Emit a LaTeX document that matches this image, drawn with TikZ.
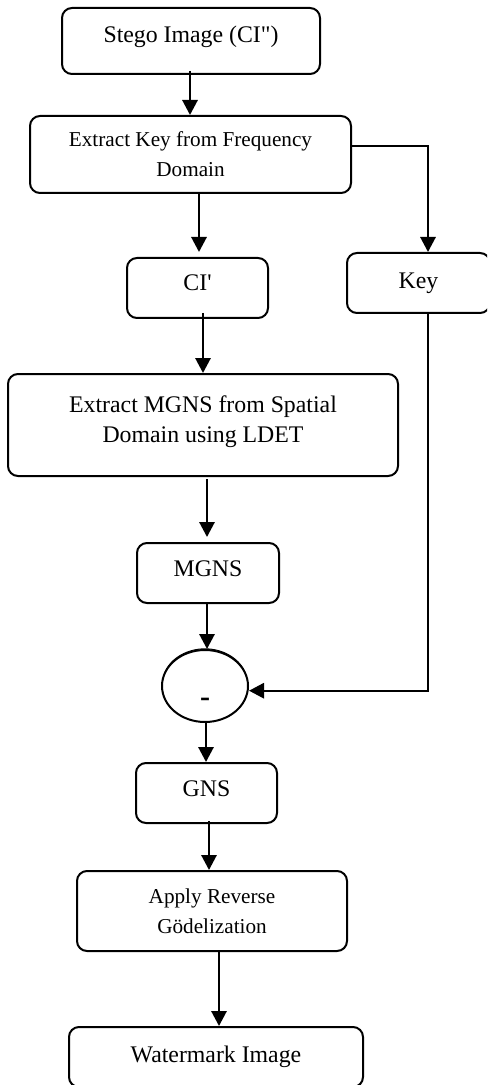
\documentclass[tikz,border=0pt]{standalone}
\usepackage{fontspec}
\setmainfont{Liberation Serif}
\usetikzlibrary{arrows.meta,shapes.geometric,calc}
\begin{document}
\begin{tikzpicture}[x=0.5pt,y=-0.5pt,
  flowbox/.style={draw,line width=1pt,rounded corners=5pt,inner sep=0pt,
    align=center,font=\fontsize{11.9}{15}\selectfont},
  smalltext/.style={font=\fontsize{10.6}{15}\selectfont},
  arr/.style={line width=1.2pt,-{Triangle[length=7.5pt,width=7.6pt]}},
  link/.style={line width=1.2pt}]
\useasboundingbox (0,0) rectangle (487,1085);
\clip (0,0) rectangle (487,1085);

% process boxes
\node[flowbox,minimum width=129pt,minimum height=33pt,text depth=6.6pt] (stego) at (191,41)
  {Stego Image (CI\textquotedbl)};
\node[flowbox,smalltext,minimum width=160.5pt,minimum height=38.5pt] (ext) at (190.5,154.5)
  {Extract Key from Frequency\\Domain};
\node[flowbox,minimum width=70.5pt,minimum height=30pt,text depth=5pt] (ci) at (197.5,288)
  {CI\textquotesingle};
\node[flowbox,minimum width=71.5pt,minimum height=30pt] (key) at (418.5,283) {Key};
\node[flowbox,minimum width=195pt,minimum height=51pt,text depth=5.4pt] (spat) at (203,425)
  {Extract MGNS from Spatial\\Domain using LDET};
\node[flowbox,minimum width=71pt,minimum height=30pt,text depth=4pt] (mgns) at (208,573) {MGNS};
\node[draw,ellipse,line width=1pt,minimum width=43pt,minimum height=36pt,inner sep=0pt,
  text height=0pt,text depth=0pt,font=\fontsize{15}{15}\selectfont\bfseries] (sub) at (205,686)
  {\raisebox{-10pt}{-}};
\node[flowbox,minimum width=70.5pt,minimum height=30pt,text depth=4pt] (gns) at (206.5,793) {GNS};
\node[flowbox,smalltext,minimum width=135pt,minimum height=40pt] (rev) at (212,911)
  {Apply Reverse\\G\"odelization};
\node[flowbox,minimum width=147pt,minimum height=30pt] (wm) at (216,1057) {Watermark Image};

% second rim on the upper edge of the subtraction ellipse
\draw[line width=0.5pt] ($(sub.center)+(160:21.3pt and 17.8pt)+(0,0.8pt)$)
  arc[start angle=160,end angle=20,x radius=21.3pt,y radius=17.8pt];

% main flow
\draw[arr] ([xshift=-0.5pt,yshift=2pt]stego.south) -- ([xshift=-0.5pt]stego.south |- ext.north);
\draw[arr,shorten >=2.5pt] ([xshift=4.25pt]ext.south) -- ([xshift=4.25pt]ext.south |- ci.north);
\draw[arr] ([xshift=2.75pt,yshift=3pt]ci.south) -- ([xshift=2.75pt]ci.south |- spat.north);
\draw[arr,shorten <=1pt,shorten >=2.5pt] ([xshift=2pt]spat.south) -- ([xshift=2pt]spat.south |- mgns.north);
\draw[arr] ([xshift=-0.5pt]mgns.south) -- ([xshift=-0.5pt]mgns.south |- sub.north);
\draw[arr] ([xshift=0.5pt]sub.south) -- ([xshift=0.5pt]sub.south |- gns.north);
\draw[arr] ([xshift=1.25pt,yshift=1.5pt]gns.south) -- ([xshift=1.25pt]gns.south |- rev.north);
\draw[arr] ([xshift=3.5pt]rev.south) -- ([xshift=3.5pt]rev.south |- wm.north);

% key branch
\draw[arr] ([yshift=4.25pt]ext.east) -| ([xshift=4.75pt]key.north);
\draw[arr] ([xshift=4.75pt]key.south) |- ([yshift=-2.35pt]sub.east);
\end{tikzpicture}
\end{document}
